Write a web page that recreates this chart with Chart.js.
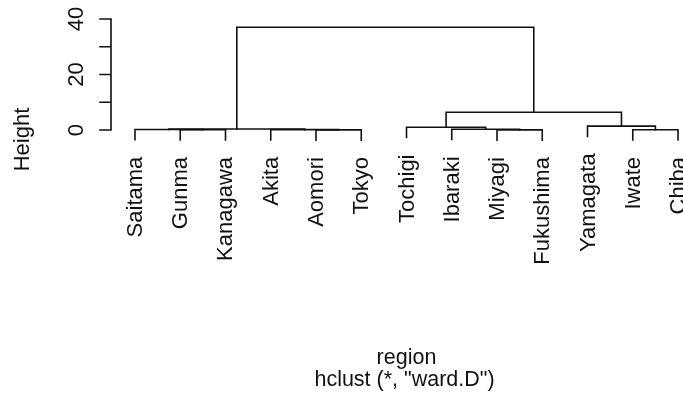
<!DOCTYPE html>
<html>
<head>
<meta charset="utf-8">
<script src="https://cdn.jsdelivr.net/npm/chart.js@4/dist/chart.umd.min.js"></script>
<style>
  html, body { margin: 0; padding: 0; background: #fff; overflow: hidden; width: 683px; height: 399px; }
  #wrap { position: absolute; left: 0; top: 0; width: 720px; height: 399px; }
  canvas { display: block; }
</style>
</head>
<body>
<div id="wrap"><canvas id="c" width="720" height="399"></canvas></div>
<script>
// ---- data ----
const leafLabels = ['Saitama', 'Gunma', 'Kanagawa', 'Akita', 'Aomori', 'Tokyo',
                    'Tochigi', 'Ibaraki', 'Miyagi', 'Fukushima', 'Yamagata', 'Iwate', 'Chiba'];
// R-style merge matrix: negative = leaf (1-based, plot order), positive = earlier merge step
const mergeLeft   = [-5, -9, -2, -12, -4, -1, -8, 6, -7, -11, 9, 8];
const mergeRight  = [-6, -10, -3, -13, 1, 3, 2, 5, 7, 4, 10, 11];
const mergeHeight = [0.05, 0.05, 0.1, 0.1, 0.15, 0.2, 0.3, 0.35, 1.0, 1.4, 6.4, 37.0];
const yTickValues = [0, 10, 20, 30, 40];
const yTickLabels = ['0', '20', '40'];
const yTitle = 'Height';
const xTitle = 'region';
const subTitle = 'hclust (*, "ward.D")';
const hangFraction = 0.1;

// ---- build dendrogram segments from the merge data ----
const hang = hangFraction * (Math.max(...mergeHeight) - Math.min(...mergeHeight));
const nodePos = [], nodeH = [];
const leafEnd = new Array(leafLabels.length);
const datasets = [];
function child(c, h) {
  if (c < 0) { const i = -c; leafEnd[i - 1] = h - hang; return { x: i, y: h - hang }; }
  return { x: nodePos[c - 1], y: nodeH[c - 1] };
}
for (let k = 0; k < mergeHeight.length; k++) {
  const h = mergeHeight[k];
  const a = child(mergeLeft[k], h), b = child(mergeRight[k], h);
  nodePos.push((a.x + b.x) / 2); nodeH.push(h);
  datasets.push({
    data: [{ x: a.x, y: a.y }, { x: a.x, y: h }, { x: b.x, y: h }, { x: b.x, y: b.y }],
    showLine: true, borderColor: '#111', borderWidth: 1.6, pointRadius: 0,
    fill: false, tension: 0, borderCapStyle: 'square', borderJoinStyle: 'miter'
  });
}

const FONT_V = '22px "Liberation Sans", Arial, sans-serif';
const FONT_H = '21.5px "Liberation Sans", Arial, sans-serif';
const TXT = '#111';

const decor = {
  id: 'rDecor',
  afterDraw(chart) {
    const ctx = chart.ctx, xs = chart.scales.x, ys = chart.scales.y, ca = chart.chartArea;
    ctx.save();
    ctx.strokeStyle = '#111'; ctx.lineWidth = 1.6; ctx.lineCap = 'square';
    // y axis line and ticks
    const ax = ca.left;
    ctx.beginPath();
    ctx.moveTo(ax, ys.getPixelForValue(yTickValues[0]));
    ctx.lineTo(ax, ys.getPixelForValue(yTickValues[yTickValues.length - 1]));
    yTickValues.forEach(v => { const p = ys.getPixelForValue(v); ctx.moveTo(ax - 11, p); ctx.lineTo(ax, p); });
    ctx.stroke();
    ctx.fillStyle = TXT; ctx.font = FONT_V;
    // y tick labels (parallel to axis)
    yTickLabels.forEach(t => {
      const p = ys.getPixelForValue(Number(t));
      ctx.save(); ctx.translate(ax - 28.5, p); ctx.rotate(-Math.PI / 2);
      ctx.textAlign = 'center'; ctx.textBaseline = 'alphabetic'; ctx.fillText(t, 0, 0); ctx.restore();
    });
    // y title
    ctx.save(); ctx.translate(29, 139.5); ctx.rotate(-Math.PI / 2);
    ctx.textAlign = 'center'; ctx.textBaseline = 'alphabetic'; ctx.fillText(yTitle, 0, 0); ctx.restore();
    // leaf labels
    leafLabels.forEach((lab, i) => {
      const px = xs.getPixelForValue(i + 1), py = ys.getPixelForValue(leafEnd[i]);
      ctx.save(); ctx.translate(px + 7, py + 17); ctx.rotate(-Math.PI / 2);
      ctx.textAlign = 'right'; ctx.textBaseline = 'alphabetic'; ctx.fillText(lab, 0, 0); ctx.restore();
    });
    // bottom titles
    ctx.font = FONT_H;
    const cx = (ca.left + ca.right) / 2;
    ctx.textAlign = 'center'; ctx.textBaseline = 'alphabetic';
    ctx.fillText(xTitle, cx, 364);
    ctx.fillText(subTitle, cx - 2, 386);
    ctx.restore();
  }
};

new Chart(document.getElementById('c'), {
  type: 'scatter',
  data: { datasets },
  options: {
    responsive: false, animation: false, devicePixelRatio: 1,
    layout: { padding: { left: 111, right: 18, top: 16.2, bottom: 256.5 } },
    plugins: { legend: { display: false }, tooltip: { enabled: false }, title: { display: false } },
    scales: {
      x: { type: 'linear', display: false, min: 0.47, max: 13.53 },
      y: { type: 'linear', display: false, min: -4.5, max: 41 }
    }
  },
  plugins: [decor]
});
</script>
</body>
</html>
